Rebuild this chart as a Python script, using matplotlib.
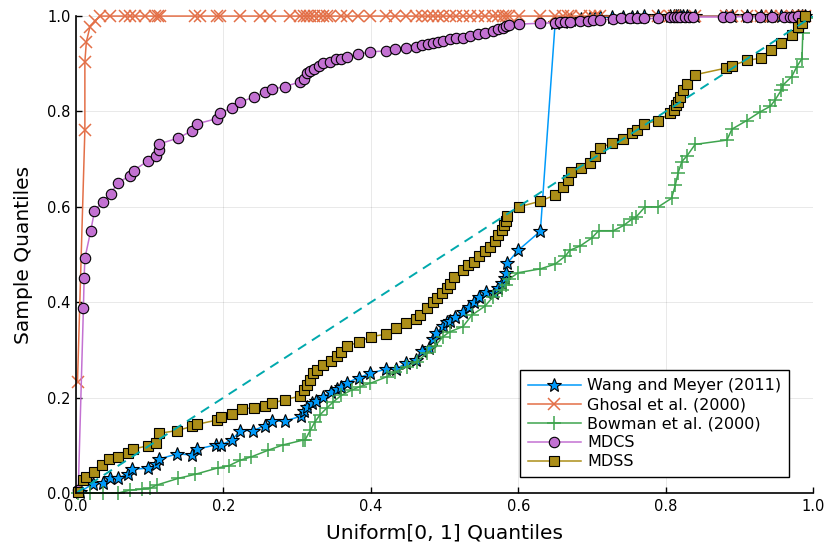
import numpy as np
import matplotlib.pyplot as plt

# Julia Plots default palette
colors = ['#009AFA', '#E36F47', '#3EA44E', '#C371D2', '#AC8E18', '#00A9AD']
labels = ['Wang and Meyer (2011)', 'Ghosal et al. (2000)', 'Bowman et al. (2000)', 'MDCS', 'MDSS']

## Wang and Meyer
wang_x = [0.005, 0.0235, 0.036, 0.046, 0.057, 0.071, 0.076, 0.097, 0.109, 0.112, 0.137, 0.158,
          0.164, 0.190, 0.197, 0.211, 0.223, 0.240, 0.256, 0.266, 0.283, 0.305, 0.309, 0.313,
          0.320, 0.326, 0.335, 0.346, 0.354, 0.360, 0.367, 0.384, 0.399, 0.421, 0.434, 0.448,
          0.461, 0.469, 0.479, 0.485, 0.489, 0.498, 0.504, 0.508, 0.514, 0.525, 0.533, 0.540,
          0.547, 0.556, 0.567, 0.573, 0.578, 0.582, 0.583, 0.585, 0.600, 0.630,
          0.650, 0.661, 0.667, 0.671, 0.685, 0.697, 0.704, 0.711, 0.727, 0.742, 0.754, 0.761,
          0.771, 0.790, 0.806, 0.811, 0.814, 0.817, 0.820, 0.823, 0.829, 0.840, 0.882, 0.890,
          0.910, 0.930, 0.943, 0.957, 0.971, 0.980, 0.985, 0.989]
wang_y = [0.002, 0.020, 0.022, 0.032, 0.032, 0.040, 0.050, 0.052, 0.060, 0.071, 0.082, 0.080,
          0.092, 0.101, 0.101, 0.111, 0.131, 0.131, 0.141, 0.151, 0.151, 0.161, 0.172, 0.181,
          0.189, 0.193, 0.202, 0.212, 0.219, 0.223, 0.231, 0.242, 0.251, 0.260, 0.260, 0.272,
          0.280, 0.298, 0.305, 0.322, 0.336, 0.350, 0.359, 0.361, 0.370, 0.380, 0.391, 0.401,
          0.412, 0.422, 0.420, 0.430, 0.440, 0.450, 0.461, 0.482, 0.509, 0.549,
          0.985, 0.988, 0.990, 0.992, 0.994, 0.995, 0.996, 0.997, 0.998, 0.998, 0.999, 0.999,
          1.0, 1.0, 1.0, 1.0, 1.0, 1.0, 1.0, 1.0, 1.0, 1.0, 1.0, 1.0,
          1.0, 1.0, 1.0, 1.0, 1.0, 1.0, 1.0, 1.0]

## Ghosal et al.
ghosal_x = [0.002, 0.012, 0.012, 0.014, 0.019, 0.026, 0.033, 0.046, 0.066, 0.073, 0.080, 0.094,
            0.107, 0.111, 0.114, 0.161, 0.168, 0.191, 0.195, 0.222, 0.249, 0.263, 0.290, 0.304,
            0.309, 0.313, 0.318, 0.323, 0.329, 0.335, 0.341, 0.345, 0.359, 0.367, 0.383, 0.399,
            0.421, 0.433, 0.448, 0.461, 0.469, 0.478, 0.485, 0.491, 0.498, 0.507, 0.516, 0.525,
            0.535, 0.546, 0.555, 0.566, 0.573, 0.579, 0.583, 0.587, 0.601, 0.630, 0.650, 0.661,
            0.667, 0.671, 0.685, 0.697, 0.704, 0.711, 0.790, 0.806, 0.811, 0.840, 0.882, 0.890,
            0.910, 0.930, 0.943, 0.957, 0.971, 0.980, 0.989]
ghosal_y = [0.233, 0.761, 0.904, 0.946, 0.978, 0.990] + [1.0] * (len(ghosal_x) - 6)

## Bowman et al.
bowman_x = [0.003, 0.019, 0.037, 0.057, 0.073, 0.089, 0.100, 0.110, 0.139, 0.161, 0.193, 0.207,
            0.223, 0.238, 0.261, 0.281, 0.308, 0.311, 0.318, 0.324, 0.331, 0.340, 0.349, 0.360,
            0.374, 0.385, 0.399, 0.422, 0.433, 0.449, 0.462, 0.476, 0.487, 0.498, 0.507, 0.525,
            0.537, 0.555, 0.566, 0.578, 0.584, 0.587, 0.600, 0.630, 0.650, 0.664, 0.670, 0.684,
            0.700, 0.709, 0.729, 0.743, 0.754, 0.760, 0.772, 0.790, 0.808, 0.813, 0.817, 0.822,
            0.829, 0.840, 0.883, 0.890, 0.910, 0.928, 0.942, 0.948, 0.957, 0.959, 0.971, 0.978,
            0.985, 0.986, 0.990]
bowman_y = [0.0, 0.0, 0.0, 0.0, 0.006, 0.008, 0.010, 0.017, 0.031, 0.039, 0.053, 0.057,
            0.069, 0.076, 0.090, 0.101, 0.111, 0.112, 0.132, 0.149, 0.164, 0.178, 0.191, 0.205,
            0.216, 0.223, 0.230, 0.244, 0.254, 0.265, 0.275, 0.293, 0.308, 0.328, 0.338, 0.349,
            0.373, 0.392, 0.412, 0.426, 0.436, 0.448, 0.462, 0.470, 0.480, 0.497, 0.509, 0.518,
            0.535, 0.550, 0.550, 0.561, 0.574, 0.579, 0.600, 0.600, 0.618, 0.645, 0.672, 0.695,
            0.707, 0.731, 0.740, 0.763, 0.781, 0.799, 0.811, 0.823, 0.845, 0.855, 0.873, 0.894,
            0.911, 0.964, 0.995]

## MDCS
mdcs_x = [0.003, 0.010, 0.011, 0.012, 0.020, 0.025, 0.036, 0.047, 0.057, 0.073, 0.078, 0.097,
          0.109, 0.113, 0.113, 0.138, 0.158, 0.164, 0.191, 0.196, 0.211, 0.223, 0.241, 0.256,
          0.266, 0.283, 0.304, 0.309, 0.313, 0.318, 0.323, 0.329, 0.335, 0.345, 0.353, 0.359,
          0.367, 0.383, 0.399, 0.421, 0.433, 0.448, 0.461, 0.469, 0.478, 0.485, 0.491, 0.498,
          0.507, 0.516, 0.525, 0.535, 0.546, 0.555, 0.566, 0.573, 0.579, 0.583, 0.587, 0.601,
          0.630, 0.650, 0.657, 0.664, 0.670, 0.684, 0.695, 0.702, 0.711, 0.729, 0.740, 0.752,
          0.761, 0.770, 0.790, 0.806, 0.811, 0.815, 0.820, 0.826, 0.831, 0.837, 0.878, 0.887,
          0.910, 0.928, 0.944, 0.960, 0.969, 0.973, 0.980, 0.989]
mdcs_y = [0.006, 0.387, 0.451, 0.492, 0.550, 0.591, 0.611, 0.628, 0.651, 0.665, 0.676, 0.696,
          0.707, 0.720, 0.732, 0.744, 0.760, 0.774, 0.785, 0.796, 0.808, 0.820, 0.830, 0.840,
          0.847, 0.852, 0.862, 0.869, 0.880, 0.885, 0.890, 0.895, 0.901, 0.904, 0.909, 0.911,
          0.915, 0.920, 0.925, 0.927, 0.930, 0.933, 0.936, 0.939, 0.941, 0.944, 0.946, 0.948,
          0.951, 0.953, 0.955, 0.958, 0.962, 0.965, 0.969, 0.972, 0.976, 0.979, 0.981, 0.983,
          0.985, 0.986, 0.987, 0.988, 0.988, 0.990, 0.990, 0.992, 0.992, 0.994, 0.995, 0.995,
          0.995, 0.995, 0.995, 0.997, 0.997, 0.997, 0.997, 0.998, 0.998, 0.998, 0.998, 0.998,
          0.999, 0.999, 0.999, 0.999, 0.999, 0.999, 1.0, 1.0]

## MDSS
mdss_x = [0.003, 0.010, 0.013, 0.024, 0.035, 0.045, 0.057, 0.071, 0.077, 0.097, 0.109, 0.112,
          0.137, 0.158, 0.164, 0.191, 0.197, 0.211, 0.225, 0.241, 0.256, 0.266, 0.283, 0.304,
          0.309, 0.313, 0.317, 0.322, 0.327, 0.335, 0.346, 0.354, 0.360, 0.368, 0.384, 0.400,
          0.421, 0.434, 0.448, 0.461, 0.467, 0.476, 0.484, 0.490, 0.497, 0.503, 0.508, 0.513,
          0.525, 0.532, 0.540, 0.547, 0.555, 0.562, 0.568, 0.573, 0.578, 0.581, 0.583, 0.585,
          0.601, 0.630, 0.650, 0.661, 0.667, 0.671, 0.685, 0.697, 0.704, 0.711, 0.727, 0.742,
          0.754, 0.761, 0.771, 0.790, 0.806, 0.811, 0.814, 0.817, 0.820, 0.823, 0.829, 0.840,
          0.882, 0.890, 0.910, 0.930, 0.943, 0.957, 0.971, 0.980, 0.985, 0.989]
mdss_y = [0.003, 0.027, 0.033, 0.045, 0.059, 0.071, 0.076, 0.084, 0.092, 0.099, 0.104, 0.125,
          0.131, 0.140, 0.144, 0.153, 0.159, 0.166, 0.176, 0.179, 0.183, 0.188, 0.196, 0.203,
          0.216, 0.226, 0.237, 0.251, 0.259, 0.268, 0.277, 0.287, 0.296, 0.308, 0.317, 0.328,
          0.333, 0.345, 0.356, 0.364, 0.373, 0.387, 0.401, 0.409, 0.419, 0.429, 0.438, 0.452,
          0.467, 0.478, 0.485, 0.496, 0.508, 0.516, 0.529, 0.541, 0.551, 0.562, 0.571, 0.581,
          0.600, 0.612, 0.625, 0.641, 0.656, 0.674, 0.681, 0.691, 0.706, 0.724, 0.733, 0.742,
          0.754, 0.761, 0.774, 0.781, 0.796, 0.803, 0.813, 0.820, 0.831, 0.845, 0.858, 0.877,
          0.891, 0.896, 0.907, 0.912, 0.929, 0.943, 0.960, 0.978, 0.985, 1.0]

ref_x = [0.0, 1.0]
ref_y = [0.0, 1.0]

fig = plt.figure(figsize=(8.3, 5.54), dpi=100)
ax = fig.add_axes([0.0916, 0.110, 0.888, 0.861])

ax.plot(wang_x, wang_y, color=colors[0], lw=1.1, marker='*', ms=10,
        mfc=colors[0], mec='black', mew=0.8, label=labels[0], clip_on=False)
ax.plot(ghosal_x, ghosal_y, color=colors[1], lw=1.1, marker='x', ms=9,
        mew=1.1, label=labels[1], clip_on=False)
ax.plot(bowman_x, bowman_y, color=colors[2], lw=1.1, marker='+', ms=10,
        mew=1.1, label=labels[2], clip_on=False)
ax.plot(mdcs_x, mdcs_y, color=colors[3], lw=1.1, marker='o', ms=7.5,
        mfc=colors[3], mec='black', mew=0.8, label=labels[3], clip_on=False)
ax.plot(mdss_x, mdss_y, color=colors[4], lw=1.1, marker='s', ms=7.5,
        mfc=colors[4], mec='black', mew=0.8, label=labels[4], clip_on=False)
ax.plot(ref_x, ref_y, color=colors[5], lw=1.4, ls=(0, (5, 3.5)))

ax.set_xlim(0, 1)
ax.set_ylim(0, 1)
ticks = np.arange(0, 1.01, 0.2)
ax.set_xticks(ticks)
ax.set_yticks(ticks)
ax.set_xticklabels(['%.1f' % t for t in ticks])
ax.set_yticklabels(['%.1f' % t for t in ticks])
ax.tick_params(direction='in', length=4, width=1, labelsize=10.5, pad=4)
ax.grid(True, color='black', alpha=0.1, lw=0.6)
ax.set_axisbelow(True)
for s in ['top', 'right']:
  ax.spines[s].set_visible(False)
for s in ['left', 'bottom']:
  ax.spines[s].set_linewidth(1.2)

ax.set_xlabel('Uniform[0, 1] Quantiles', fontsize=14.5, labelpad=7)
ax.set_ylabel('Sample Quantiles', fontsize=14.5, labelpad=10)

leg = ax.legend(loc='lower right', bbox_to_anchor=(0.9674, 0.0335), borderaxespad=0,
                fontsize=11.5, fancybox=False, edgecolor='black', framealpha=1,
                handlelength=3.3, borderpad=0.5, labelspacing=0.25, handletextpad=0.4)
leg.get_frame().set_linewidth(1.0)

plt.savefig('out.png')
